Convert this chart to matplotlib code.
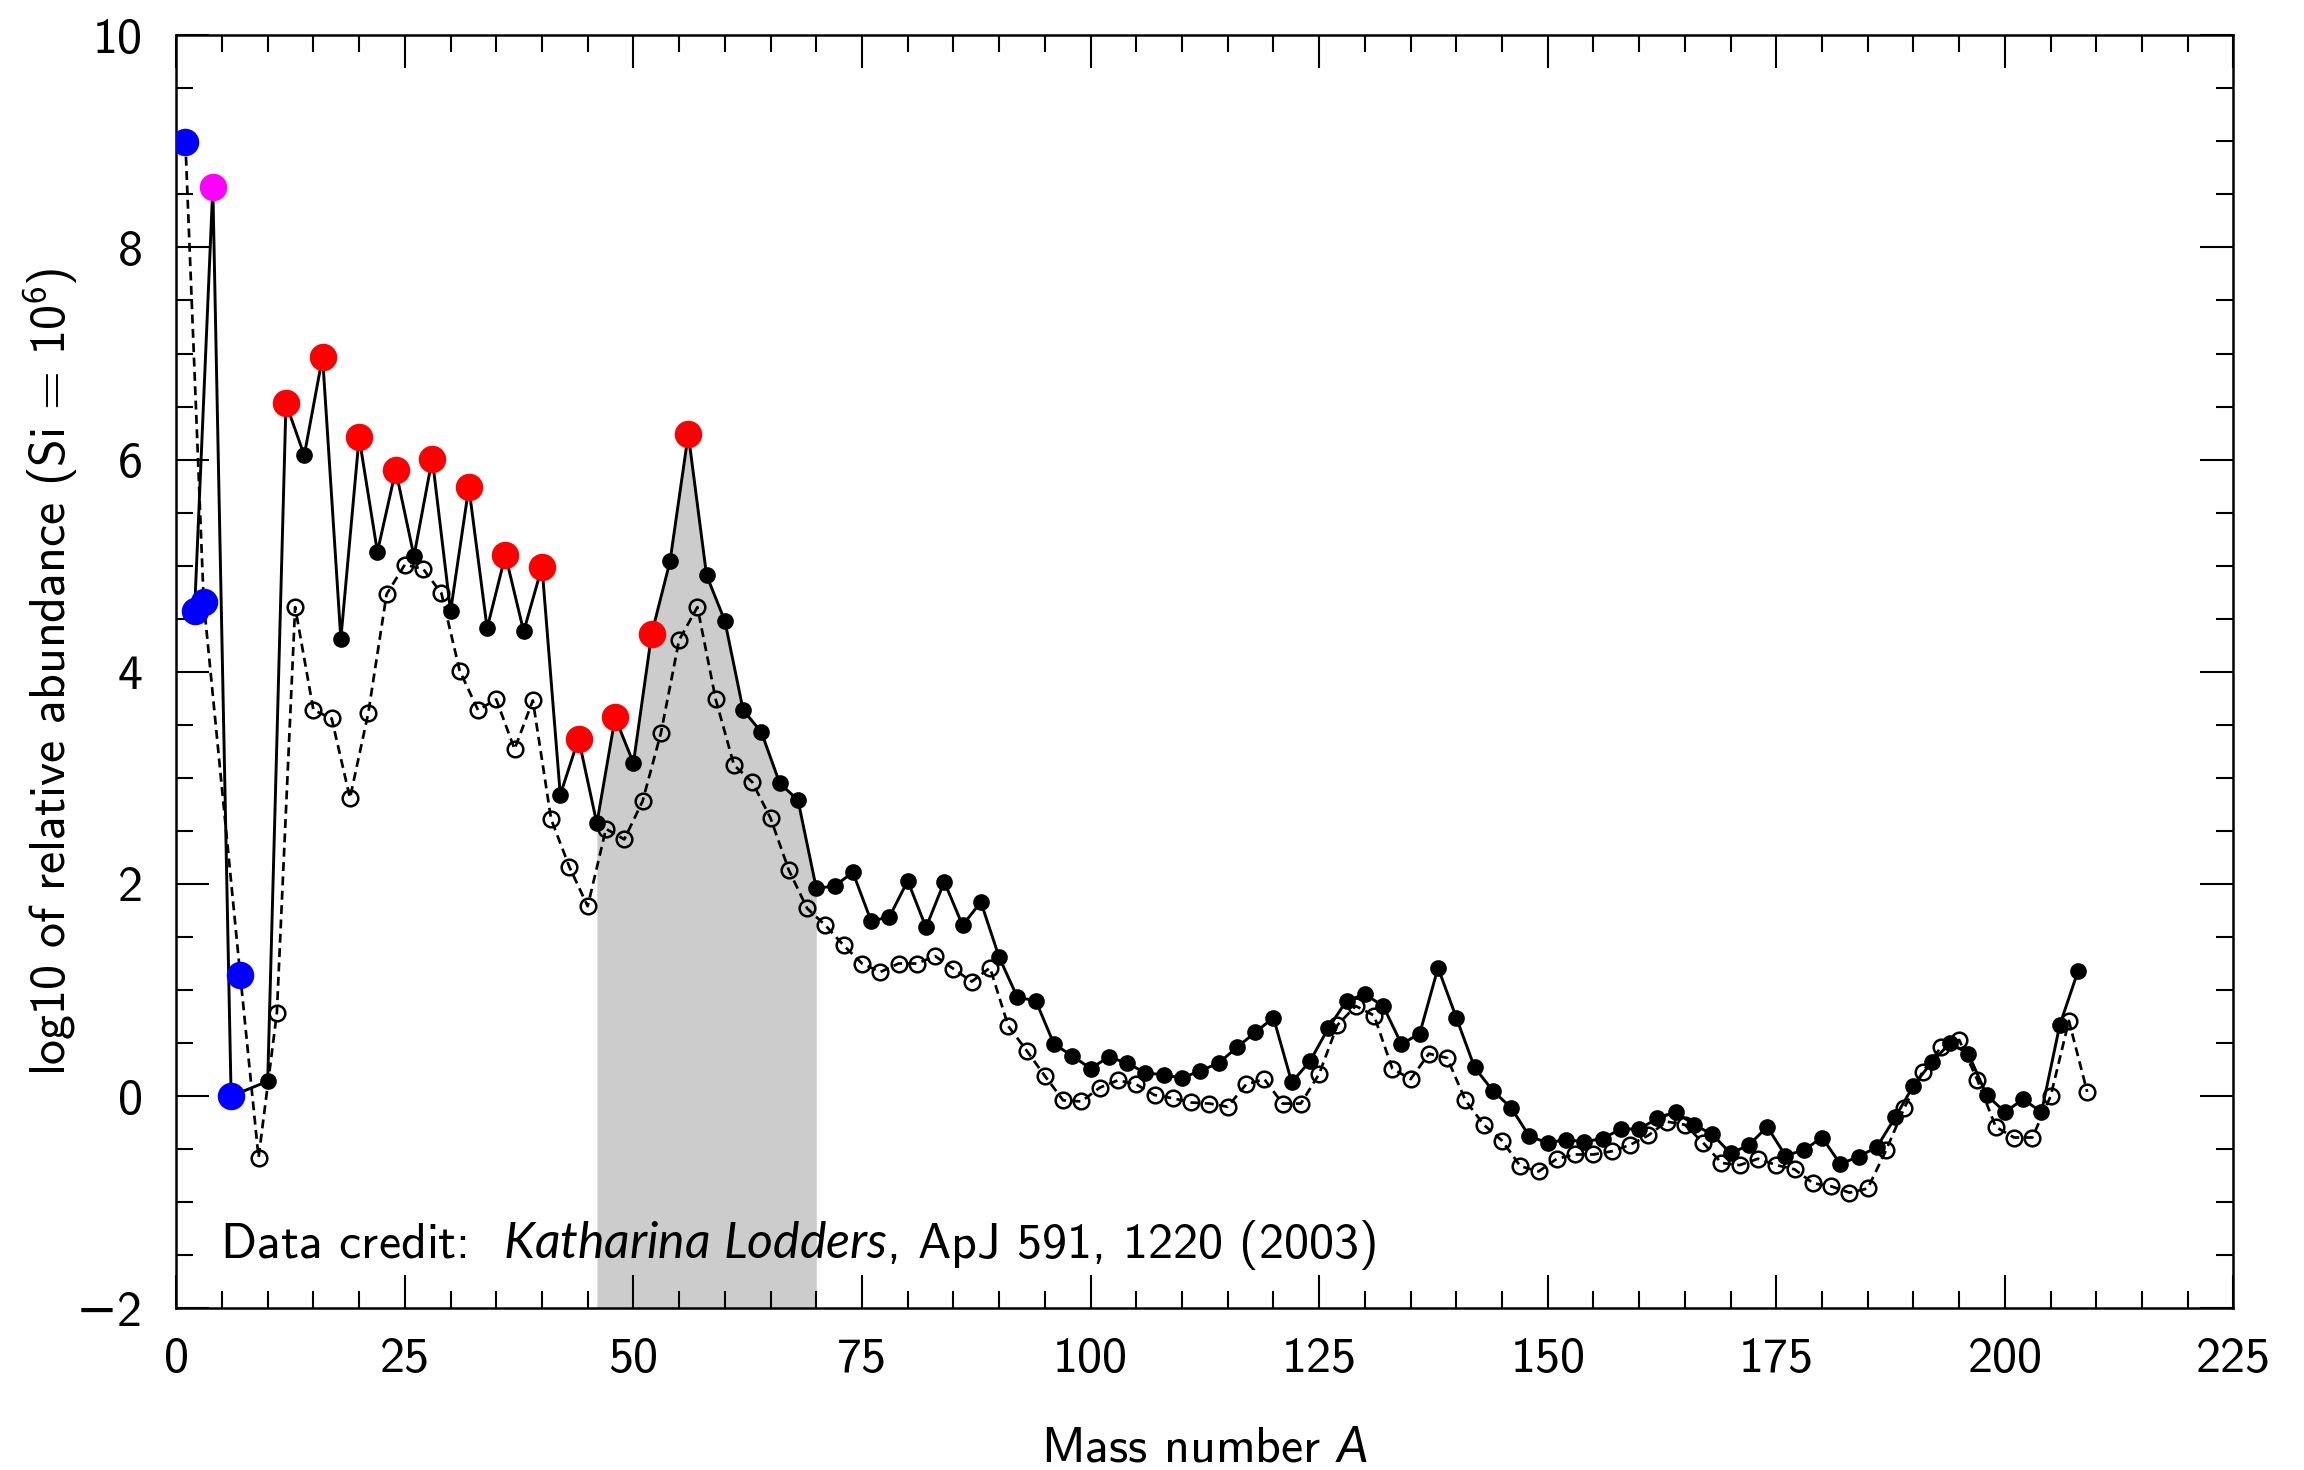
import matplotlib
matplotlib.use("Agg")
import matplotlib.pyplot as plt
from matplotlib.ticker import MultipleLocator

# familia de letra parecida a la de LaTeX (sans) y tamaño base
plt.rcParams['font.family'] = ['cmss10', 'DejaVu Sans']
plt.rcParams['mathtext.fontset'] = 'custom'
plt.rcParams['mathtext.rm'] = 'cmss10'
plt.rcParams['mathtext.it'] = 'Lato:italic'
plt.rcParams['font.size'] = 24

# Número másico par (línea continua, puntos llenos)
a_par = [2, 4, 6] + list(range(10, 209, 2))
log_par = [4.57, 8.57, 0.00,
           0.14, 6.53, 6.04, 6.97, 4.31, 6.21, 5.13, 5.90, 5.09, 6.01,
           4.57, 5.74, 4.41, 5.10, 4.38, 4.99, 2.84, 3.37, 2.57, 3.57,
           3.14, 4.36, 5.04, 6.24, 4.91, 4.48, 3.64, 3.43, 2.95, 2.79,
           1.96, 1.98, 2.11, 1.65, 1.69, 2.03, 1.59, 2.02, 1.61, 1.83,
           1.31, 0.93, 0.90, 0.49, 0.38, 0.26, 0.37, 0.31, 0.22, 0.20,
           0.17, 0.24, 0.31, 0.46, 0.60, 0.74, 0.13, 0.33, 0.64, 0.90,
           0.96, 0.85, 0.49, 0.59, 1.21, 0.74, 0.27, 0.05, -0.11, -0.38,
           -0.44, -0.41, -0.43, -0.40, -0.31, -0.31, -0.21, -0.15, -0.27, -0.36,
           -0.54, -0.46, -0.29, -0.56, -0.51, -0.39, -0.64, -0.57, -0.48, -0.20,
           0.10, 0.32, 0.50, 0.40, 0.01, -0.15, -0.03, -0.15, 0.67, 1.18]

# Número másico impar (línea discontinua, círculos vacíos)
a_impar = [1, 3] + list(range(7, 210, 2))
log_impar = [8.99, 4.66,
             1.14, -0.58, 0.78, 4.61, 3.64, 3.56, 2.81, 3.61, 4.73, 5.01,
             4.97, 4.74, 4.01, 3.64, 3.74, 3.27, 3.73, 2.61, 2.16, 1.79,
             2.52, 2.42, 2.78, 3.42, 4.30, 4.61, 3.74, 3.12, 2.96, 2.62,
             2.13, 1.77, 1.61, 1.42, 1.25, 1.17, 1.25, 1.25, 1.32, 1.20,
             1.08, 1.21, 0.66, 0.43, 0.19, -0.04, -0.05, 0.08, 0.15, 0.11,
             0.01, -0.02, -0.06, -0.07, -0.10, 0.11, 0.16, -0.07, -0.07, 0.21,
             0.67, 0.85, 0.76, 0.26, 0.16, 0.40, 0.36, -0.04, -0.27, -0.42,
             -0.66, -0.71, -0.59, -0.55, -0.55, -0.52, -0.46, -0.37, -0.24, -0.27,
             -0.44, -0.63, -0.65, -0.59, -0.65, -0.69, -0.82, -0.85, -0.91, -0.87,
             -0.51, -0.11, 0.23, 0.46, 0.53, 0.15, -0.29, -0.39, -0.39, 0.00,
             0.71, 0.04]

# Núcleos destacados con color
a_azul = [1, 2, 3, 6, 7]
a_magenta = [4]
a_rojo = list(range(12, 57, 4))

# rango sombreado (pico del hierro)
rango_gris = (46, 70)

valores = dict(zip(a_par, log_par))
valores.update(zip(a_impar, log_impar))

fig = plt.figure(figsize=(15.36, 9.8), dpi=150)
ax = fig.add_axes([0.0765, 0.11, 0.8929, 0.866])

# zona gris bajo la curva par
a_sombra = [a for a in a_par if rango_gris[0] <= a <= rango_gris[1]]
y_sombra = [valores[a] for a in a_sombra]
ax.fill_between(a_sombra, y_sombra, -2, color='#cccccc', lw=0, zorder=1)

ax.plot(a_impar, log_impar, ls=(0, (3.3, 2.0)), color='black', lw=1.3,
        marker='o', ms=7.5, mfc='none', mec='black', mew=1.2, zorder=3)
ax.plot(a_par, log_par, ls='-', color='black', lw=1.4,
        marker='o', ms=7, mfc='black', mec='black', zorder=3)

for lista, col in [(a_azul, 'blue'), (a_magenta, 'magenta'), (a_rojo, 'red')]:
    ax.plot(lista, [valores[a] for a in lista], ls='none', marker='o',
            ms=13.2, color=col, mec='none', zorder=4)

ax.text(4.8, -1.4, 'Data credit:  $Katharina\\ Lodders$, ApJ 591, 1220 (2003)',
        va='center', ha='left', zorder=5)

ax.set_xlim(0, 225)
ax.set_ylim(-2, 10)
ax.xaxis.set_major_locator(MultipleLocator(25))
ax.xaxis.set_minor_locator(MultipleLocator(5))
ax.yaxis.set_major_locator(MultipleLocator(2))
ax.yaxis.set_minor_locator(MultipleLocator(0.5))
ax.tick_params(which='both', direction='in', top=True, right=True, width=1)
ax.tick_params(which='major', length=16)
ax.tick_params(which='minor', length=8)
ax.tick_params(axis='x', which='major', pad=14)
ax.tick_params(axis='y', which='major', pad=16)
for s in ax.spines.values():
    s.set_linewidth(1.2)

ax.set_xlabel('Mass number $A$', labelpad=21)
ax.set_ylabel('log10 of relative abundance (Si = 10$^6$)')
ax.yaxis.set_label_coords(-0.047, 0.5)

fig.savefig('out.png', dpi=150)
